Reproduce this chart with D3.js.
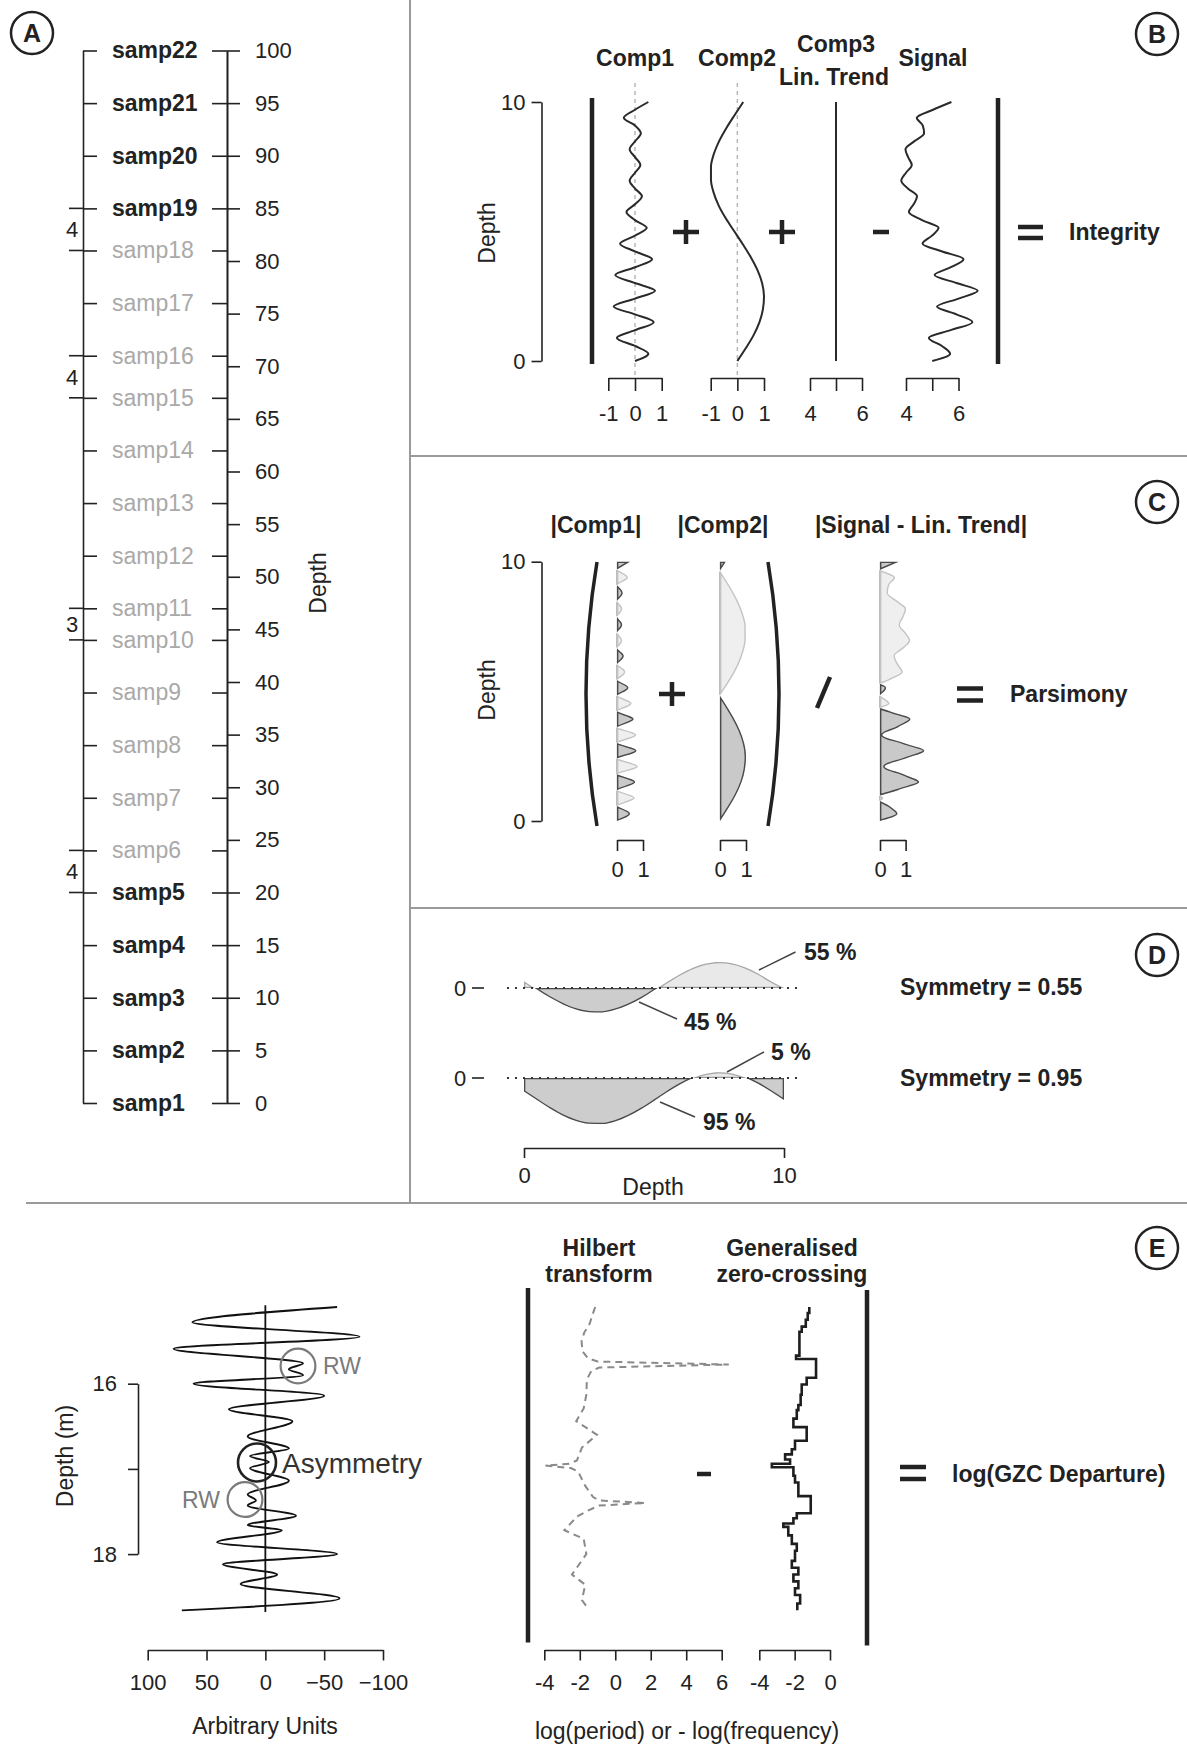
<!DOCTYPE html>
<html><head><meta charset="utf-8">
<script src="https://cdn.jsdelivr.net/npm/d3@7"></script>
<style>
body{margin:0;background:#fff}
svg{display:block}
</style>
</head><body>
<svg id="fig" width="1187" height="1748"></svg>
<script>
// ---------------- DATA ----------------
// Panel A
const sampleNames = ["samp1","samp2","samp3","samp4","samp5","samp6","samp7","samp8","samp9","samp10","samp11","samp12","samp13","samp14","samp15","samp16","samp17","samp18","samp19","samp20","samp21","samp22"];
const sampleDepths = [0,5,10,15,20,24,29,34,39,44,47,52,57,62,67,71,76,81,85,90,95,100];
const sampleStrong = [true,true,true,true,true,false,false,false,false,false,false,false,false,false,false,false,false,false,true,true,true,true];
const depthTicksA = [0,5,10,15,20,25,30,35,40,45,50,55,60,65,70,75,80,85,90,95,100];
const gapUpper = [85,71,47,24];
const gapLower = [81,67,44,20];
const gapLabels = ["4","4","3","4"];

// Panel B / C components (depth from top to bottom)
const comp1Depth = [10.00,9.70,9.39,9.09,8.79,8.48,8.18,7.87,7.57,7.27,6.96,6.66,6.36,6.05,5.75,5.44,5.14,4.84,4.53,4.23,3.93,3.62,3.32,3.01,2.71,2.41,2.10,1.80,1.50,1.19,0.89,0.58,0.28,0.00];
const comp1 = [0.50,0,-0.42,0,0.22,0,-0.20,0,0.20,0,-0.20,0,0.26,0,-0.32,0,0.44,0,-0.56,0,0.64,0,-0.74,0,0.75,0,-0.80,0,0.70,0,-0.68,0,0.50,0];
const signal = [5.73,5.03,4.41,4.64,4.69,4.31,3.98,4.08,4.22,4.00,3.82,4.07,4.42,4.29,4.11,4.61,5.24,4.99,4.63,5.38,6.19,5.71,5.09,5.93,6.73,6.00,5.18,5.92,6.53,5.70,4.87,5.37,5.68,5.00];
const comp2Depth = [10,9.5,9,8.5,8,7.5,7,6.5,6,5.5,5,4.5,4,3.5,3,2.5,2,1.5,1,0.5,0];
const comp2 = [0.22,-0.10,-0.41,-0.68,-0.88,-0.99,-0.99,-0.89,-0.70,-0.43,-0.11,0.21,0.51,0.76,0.93,1.00,0.96,0.83,0.61,0.32,0];
const trendDepth = [10,0];
const trend = [5,5];
const compTicks = [-1,0,1];
const trendTicks = [4,5,6];

// Panel D
const dDepth = [0,0.5,1,1.5,2,2.5,3,3.5,4,4.5,5,5.5,6,6.5,7,7.5,8,8.5,9,9.5,10];
const symTop = [0.26,-0.06,-0.37,-0.63,-0.83,-0.93,-0.94,-0.84,-0.65,-0.40,-0.09,0.23,0.53,0.78,0.94,1.00,0.95,0.80,0.56,0.26,0.00];
const symBottom = [-0.52,-0.85,-1.17,-1.45,-1.65,-1.76,-1.77,-1.67,-1.47,-1.20,-0.88,-0.55,-0.25,0.00,0.16,0.22,0.17,0.02,-0.22,-0.52,-0.85];

// Panel E
const eDepth = [15.10,15.28,15.45,15.59,15.76,15.83,15.90,16.00,16.14,16.30,16.44,16.62,16.76,16.85,16.92,16.99,17.14,17.30,17.37,17.43,17.55,17.66,17.72,17.86,18.00,18.12,18.24,18.35,18.52,18.66];
const eSignal = [-61,62,-80,78,-32,-20,-32,61,-50,31,-23,15,-20,13,-3,13,-20,15,8,15,-26,15,-14,41,-61,36,-10,21,-63,71];
const hilDepth = [15.10,15.20,15.30,15.40,15.50,15.62,15.70,15.74,15.775,15.81,15.85,15.95,16.13,16.29,16.44,16.60,16.75,16.90,16.94,16.96,16.99,17.03,17.20,17.33,17.37,17.40,17.43,17.48,17.56,17.72,17.82,18.00,18.24,18.36,18.54,18.65];
const hilValue = [-1.13,-1.30,-1.45,-1.75,-1.90,-1.85,-1.55,-1.00,6.40,-0.90,-1.35,-1.60,-1.63,-1.78,-2.20,-1.03,-1.88,-2.16,-2.60,-3.94,-2.50,-2.10,-1.69,-1.25,-0.90,1.69,-0.90,-1.45,-2.16,-2.87,-1.78,-1.63,-2.44,-1.69,-1.88,-1.50];
const gzcDepth = [15.10,15.17,15.25,15.33,15.39,15.67,15.71,15.93,16.01,16.13,16.25,16.31,16.41,16.51,16.67,16.77,16.83,16.89,16.94,16.98,17.08,17.16,17.32,17.52,17.58,17.64,17.68,17.78,17.88,17.96,18.08,18.16,18.24,18.32,18.40,18.48,18.58,18.66];
const gzcValue = [-1.17,-1.26,-1.37,-1.60,-1.73,-1.92,-0.79,-1.32,-1.60,-1.66,-1.79,-1.88,-2.07,-1.32,-1.98,-2.16,-2.54,-2.26,-3.29,-2.07,-1.98,-1.79,-1.09,-1.88,-2.07,-2.64,-2.36,-2.16,-1.88,-1.98,-2.16,-1.79,-2.07,-1.79,-1.98,-1.69,-1.85,-1.85];
const eAxisTicks = [100,50,0,-50,-100];
const hilTicks = [-4,-2,0,2,4,6];
const gzcTicks = [-4,-2,0];

// ---------------- DRAW ----------------
const W = 1187, H = 1748;
const FONT = '"Liberation Sans", Arial, Helvetica, sans-serif';
const INK = "#222";
const svg = d3.select("#fig").style("font-family", FONT);
const defs = svg.append("defs");
svg.append("rect").attr("width", W).attr("height", H).attr("fill", "#fff");

function styleAxis(g, fs) {
  g.attr("font-family", FONT).attr("font-size", fs);
  g.selectAll("path.domain, .tick line").attr("stroke", INK).attr("stroke-width", 1.6);
  g.selectAll(".tick text").attr("fill", INK);
  return g;
}
function text(x, y, s, opt = {}) {
  const t = svg.append("text").attr("x", x).attr("y", y).text(s)
    .attr("font-size", opt.size || 23).attr("fill", opt.fill || INK)
    .attr("font-weight", opt.bold ? "bold" : "normal")
    .attr("text-anchor", opt.anchor || "start");
  if (opt.rotate) t.attr("transform", `rotate(-90,${x},${y})`);
  return t;
}
function seg(x1, y1, x2, y2, w, c) {
  svg.append("line").attr("x1", x1).attr("y1", y1).attr("x2", x2).attr("y2", y2)
    .attr("stroke", c || INK).attr("stroke-width", w || 1.6);
}
function plus(cx, cy) { seg(cx - 13, cy, cx + 13, cy, 4.5); seg(cx, cy - 12, cx, cy + 12, 4.5); }
function minus(cx, cy, h) { seg(cx - h, cy, cx + h, cy, 4.5); }
function equals(x1, x2, y1, y2) { seg(x1, y1, x2, y1, 4.5); seg(x1, y2, x2, y2, 4.5); }
function badge(cx, cy, letter) {
  svg.append("circle").attr("cx", cx).attr("cy", cy).attr("r", 21).attr("fill", "none").attr("stroke", INK).attr("stroke-width", 2.5);
  text(cx, cy + 9, letter, { bold: true, size: 25, anchor: "middle" });
}
let clipN = 0;
function signedPart(pathD, rect, fill, stroke, sw) {
  const a = "clipR" + (clipN++), b = "clipS" + (clipN++);
  defs.append("clipPath").attr("id", a).append("rect").attr("x", rect[0]).attr("y", rect[1]).attr("width", rect[2]).attr("height", rect[3]);
  defs.append("clipPath").attr("id", b).append("path").attr("d", pathD);
  svg.append("g").attr("clip-path", `url(#${a})`).append("path").attr("d", pathD)
    .attr("clip-path", `url(#${b})`).attr("fill", fill).attr("stroke", stroke).attr("stroke-width", sw * 2);
}

// Panel dividers
const DIV = "#9a9a9a";
seg(410, 0, 410, 1203, 2, DIV);
seg(410, 456, W, 456, 2, DIV);
seg(410, 908, W, 908, 2, DIV);
seg(26, 1203, W, 1203, 2, DIV);

// ===== Panel A =====
badge(32, 33, "A");
const yA = d3.scaleLinear().domain([0, 100]).range([1103, 50.5]);
const axA1 = svg.append("g").attr("transform", "translate(83,0)")
  .call(d3.axisRight(yA).tickValues(sampleDepths).tickFormat((d, i) => sampleNames[i]).tickSize(14).tickSizeOuter(0).tickPadding(15));
styleAxis(axA1, 23);
axA1.selectAll(".tick text")
  .attr("font-weight", (d, i) => sampleStrong[i] ? "bold" : "normal")
  .attr("fill", (d, i) => sampleStrong[i] ? "#222" : "#a9a9a9");
const axA2 = svg.append("g").attr("transform", "translate(227,0)")
  .call(d3.axisLeft(yA).tickValues(sampleDepths).tickSize(15).tickSizeOuter(0).tickFormat(""));
styleAxis(axA2, 23);
const axA3 = svg.append("g").attr("transform", "translate(227,0)")
  .call(d3.axisRight(yA).tickValues(depthTicksA).tickSize(13).tickSizeOuter(0).tickPadding(15));
styleAxis(axA3, 22);
gapUpper.forEach((u, i) => {
  seg(69, yA(u), 83, yA(u));
  seg(69, yA(gapLower[i]), 83, yA(gapLower[i]));
  text(72, (yA(u) + yA(gapLower[i])) / 2 + 8, gapLabels[i], { size: 22, anchor: "middle" });
});
text(326, 583, "Depth", { size: 23, anchor: "middle", rotate: true });

// ===== Panel B =====
badge(1157, 34, "B");
const yB = d3.scaleLinear().domain([0, 10]).range([361, 102]);
const xB1 = d3.scaleLinear().domain([-1, 1]).range([608.3, 661.7]);
const xB2 = d3.scaleLinear().domain([-1, 1]).range([710.7, 764]);
const xB3 = d3.scaleLinear().domain([4, 6]).range([810, 862]);
const xB4 = d3.scaleLinear().domain([4, 6]).range([906, 958.5]);
const axB = svg.append("g").attr("transform", "translate(541.5,0)")
  .call(d3.axisLeft(yB).tickValues([0, 10]).tickSize(10).tickSizeOuter(0).tickPadding(6));
styleAxis(axB, 22);
text(495, 233, "Depth", { size: 23, anchor: "middle", rotate: true });
seg(592, 98, 592, 364, 4.5);
seg(998, 98, 998, 364, 4.5);
[xB1, xB2].forEach(s => {
  svg.append("line").attr("x1", s(0)).attr("x2", s(0)).attr("y1", 83).attr("y2", 378)
    .attr("stroke", "#b8b8b8").attr("stroke-width", 1.5).attr("stroke-dasharray", "4,4");
});
const lineB = (xs, vals, deps) => d3.line().x((d, i) => xs(vals[i])).y((d, i) => yB(deps[i])).curve(d3.curveMonotoneY)(vals);
svg.append("path").attr("d", lineB(xB1, comp1, comp1Depth)).attr("fill", "none").attr("stroke", "#2a2a2a").attr("stroke-width", 2);
svg.append("path").attr("d", lineB(xB2, comp2, comp2Depth)).attr("fill", "none").attr("stroke", "#2a2a2a").attr("stroke-width", 2);
svg.append("path").attr("d", d3.line().x((d, i) => xB3(trend[i])).y((d, i) => yB(trendDepth[i]))(trend)).attr("fill", "none").attr("stroke", "#2a2a2a").attr("stroke-width", 2);
svg.append("path").attr("d", lineB(xB4, signal, comp1Depth)).attr("fill", "none").attr("stroke", "#2a2a2a").attr("stroke-width", 2);
function bottomAxis(scale, ticks, y, size, pad, fmt) {
  const g = svg.append("g").attr("transform", `translate(0,${y})`)
    .call(d3.axisBottom(scale).tickValues(ticks).tickSize(size).tickSizeOuter(0).tickPadding(pad).tickFormat(fmt || (d => d)));
  return styleAxis(g, 22);
}
bottomAxis(xB1, compTicks, 378, 13, 14);
bottomAxis(xB2, compTicks, 378, 13, 14);
bottomAxis(xB3, trendTicks, 378, 13, 14, d => d === 5 ? "" : d);
bottomAxis(xB4, trendTicks, 378, 13, 14, d => d === 5 ? "" : d);
text(635, 66, "Comp1", { bold: true, anchor: "middle" });
text(737, 66, "Comp2", { bold: true, anchor: "middle" });
text(836, 52, "Comp3", { bold: true, anchor: "middle" });
text(834, 85, "Lin. Trend", { bold: true, anchor: "middle" });
text(933, 66, "Signal", { bold: true, anchor: "middle" });
plus(686, 232); plus(782, 232); minus(881, 232, 8);
equals(1018, 1043, 227, 238);
text(1069, 240, "Integrity", { bold: true });

// ===== Panel C =====
badge(1157, 502, "C");
const yC = d3.scaleLinear().domain([0, 10]).range([821, 561.7]);
const xC1 = d3.scaleLinear().domain([0, 1]).range([617, 643]);
const xC2 = d3.scaleLinear().domain([0, 1]).range([720, 746]);
const xC3 = d3.scaleLinear().domain([0, 1]).range([880, 905.6]);
const axC = svg.append("g").attr("transform", "translate(541.5,0)")
  .call(d3.axisLeft(yC).tickValues([0, 10]).tickSize(10).tickSizeOuter(0).tickPadding(6));
styleAxis(axC, 22);
text(495, 690, "Depth", { size: 23, anchor: "middle", rotate: true });
svg.append("path").attr("d", "M597,562 Q575,694 597,826").attr("fill", "none").attr("stroke", INK).attr("stroke-width", 3.5);
svg.append("path").attr("d", "M768,562 Q790,694 768,826").attr("fill", "none").attr("stroke", INK).attr("stroke-width", 3.5);
function absPlot(xs, vals, deps) {
  const b = xs(0);
  const pos = d3.area().y((d, i) => yC(deps[i])).x0(b).x1((d, i) => xs(vals[i])).curve(d3.curveMonotoneY)(vals);
  const neg = d3.area().y((d, i) => yC(deps[i])).x0(b).x1((d, i) => xs(-vals[i])).curve(d3.curveMonotoneY)(vals);
  signedPart(neg, [b - 0.3, 0, 200, H], "#efefef", "#c4c4c4", 1.4);
  signedPart(pos, [b - 0.3, 0, 200, H], "#c9c9c9", "#4a4a4a", 1.4);
}
absPlot(xC1, comp1, comp1Depth);
absPlot(xC2, comp2, comp2Depth);
absPlot(xC3, signal.map(v => v - trend[0]), comp1Depth);
bottomAxis(xC1, [0, 1], 840, 11, 10);
bottomAxis(xC2, [0, 1], 840, 11, 10);
bottomAxis(xC3, [0, 1], 840, 11, 10);
text(596, 533, "|Comp1|", { bold: true, anchor: "middle" });
text(723, 533, "|Comp2|", { bold: true, anchor: "middle" });
text(921, 533, "|Signal - Lin. Trend|", { bold: true, anchor: "middle" });
plus(672, 694);
seg(830, 677, 817, 708, 4.5);
equals(957, 983, 688.5, 700.5);
text(1010, 702, "Parsimony", { bold: true });

// ===== Panel D =====
badge(1157, 955, "D");
const xD = d3.scaleLinear().domain([0, 10]).range([524, 784]);
const yD1 = d3.scaleLinear().domain([-1, 1]).range([1014, 962]);
const yD2 = d3.scaleLinear().domain([-1, 1]).range([1104, 1052]);
function symPlot(ys, vals) {
  const b = ys(0);
  const p = d3.area().x((d, i) => xD(dDepth[i])).y0(b).y1((d, i) => ys(vals[i])).curve(d3.curveMonotoneX)(vals);
  signedPart(p, [0, b - 200, W, 200.3], "#e9e9e9", "#a8a8a8", 1.3);
  signedPart(p, [0, b - 0.3, W, 200], "#cdcdcd", "#4a4a4a", 1.3);
  svg.append("line").attr("x1", 507).attr("x2", 801).attr("y1", b).attr("y2", b)
    .attr("stroke", "#333").attr("stroke-width", 2).attr("stroke-dasharray", "2,6");
  text(460, b + 8, "0", { size: 22, anchor: "middle" });
  seg(472, b, 484, b, 1.6);
}
symPlot(yD1, symTop);
symPlot(yD2, symBottom);
const axD = svg.append("g").attr("transform", "translate(0,1148)")
  .call(d3.axisBottom(xD).tickValues([0, 10]).tickSize(10).tickSizeOuter(0).tickPadding(9));
styleAxis(axD, 22);
text(653, 1195, "Depth", { size: 23, anchor: "middle" });
seg(759, 970, 795.5, 952, 1.5, "#444");
seg(639, 1002, 677, 1019, 1.5, "#444");
seg(727, 1072, 764, 1052, 1.5, "#444");
seg(660, 1102, 695, 1117, 1.5, "#444");
text(804, 960, "55 %", { bold: true });
text(684, 1030, "45 %", { bold: true });
text(771, 1060, "5 %", { bold: true });
text(703, 1130, "95 %", { bold: true });
text(900, 995, "Symmetry = 0.55", { bold: true });
text(900, 1086, "Symmetry = 0.95", { bold: true });

// ===== Panel E =====
badge(1157, 1248, "E");
const yE = d3.scaleLinear().domain([16, 18]).range([1383.7, 1554.1]);
const xE = d3.scaleLinear().domain([100, -100]).range([147.7, 383]);
const xH = d3.scaleLinear().domain([-4, 6]).range([544.3, 721.7]);
const xG = d3.scaleLinear().domain([-4, 0]).range([759.3, 830]);
const axE = svg.append("g").attr("transform", "translate(138,0)")
  .call(d3.axisLeft(yE).tickValues([16, 17, 18]).tickSize(10).tickSizeOuter(0).tickPadding(11).tickFormat(d => d === 17 ? "" : d));
styleAxis(axE, 22);
text(73, 1456, "Depth (m)", { size: 23, anchor: "middle", rotate: true });
seg(xE(0), yE(15.08), xE(0), yE(18.68), 1.8, "#111");
svg.append("path").attr("d", d3.line().x((d, i) => xE(eSignal[i])).y((d, i) => yE(eDepth[i])).curve(d3.curveMonotoneY)(eSignal))
  .attr("fill", "none").attr("stroke", "#111").attr("stroke-width", 1.9);
bottomAxis(xE, eAxisTicks, 1650, 10.5, 14, d => d < 0 ? "\u2212" + Math.abs(d) : d);
text(265, 1734, "Arbitrary Units", { size: 23, anchor: "middle" });
// annotations
svg.append("circle").attr("cx", 298).attr("cy", 1366).attr("r", 17.4).attr("fill", "none").attr("stroke", "#7a7a7a").attr("stroke-width", 2.2);
text(323, 1374, "RW", { size: 23, fill: "#7a7a7a" });
svg.append("circle").attr("cx", 257).attr("cy", 1462.5).attr("r", 19).attr("fill", "none").attr("stroke", "#222").attr("stroke-width", 2.6);
text(282, 1473, "Asymmetry", { size: 28, fill: "#333" });
svg.append("circle").attr("cx", 245).attr("cy", 1499.5).attr("r", 17.4).attr("fill", "none").attr("stroke", "#7a7a7a").attr("stroke-width", 2.2);
text(220, 1507.5, "RW", { size: 23, fill: "#7a7a7a", anchor: "end" });

// right part of E
seg(528, 1288, 528, 1642.5, 4.5);
seg(867, 1290, 867, 1645.5, 4.5);
svg.append("path").attr("d", d3.line().x((d, i) => xH(hilValue[i])).y((d, i) => yE(hilDepth[i]))(hilValue))
  .attr("fill", "none").attr("stroke", "#8a8a8a").attr("stroke-width", 2).attr("stroke-dasharray", "7,5");
svg.append("path").attr("d", d3.line().x((d, i) => xG(gzcValue[i])).y((d, i) => yE(gzcDepth[i])).curve(d3.curveStepBefore)(gzcValue))
  .attr("fill", "none").attr("stroke", "#1e1e1e").attr("stroke-width", 2.6);
bottomAxis(xH, hilTicks, 1650, 10.5, 14);
bottomAxis(xG, gzcTicks, 1650, 10.5, 14);
text(599, 1256, "Hilbert", { bold: true, anchor: "middle" });
text(599, 1282, "transform", { bold: true, anchor: "middle" });
text(792, 1256, "Generalised", { bold: true, anchor: "middle" });
text(792, 1282, "zero-crossing", { bold: true, anchor: "middle" });
minus(704, 1474, 7);
equals(900, 926, 1467, 1479);
text(952, 1481.5, "log(GZC Departure)", { bold: true });
text(687, 1739, "log(period) or - log(frequency)", { size: 23, anchor: "middle" });
</script>
</body></html>
